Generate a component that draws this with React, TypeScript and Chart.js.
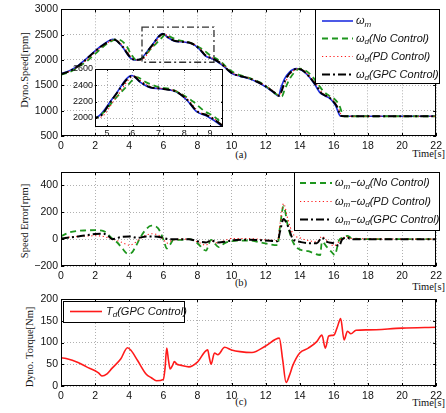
import { useEffect, useRef } from "react";
import { Chart, registerables } from "chart.js";

Chart.register(...registerables);

const SANS = '"Liberation Sans", Arial, Helvetica, sans-serif';
const SERIF = '"Liberation Serif", "Times New Roman", serif';

type P = [number, number];

// ---- axis ticks ----
const TIME_TICKS = [0, 2, 4, 6, 8, 10, 12, 14, 16, 18, 20, 22];
const SPEED_TICKS = [500, 1000, 1500, 2000, 2500, 3000];
const ERR_TICKS = [-200, 0, 200, 400];
const TORQUE_TICKS = [0, 50, 100, 150, 200];
const INSET_T_TICKS = [5, 6, 7, 8, 9];
const INSET_V_TICKS = [2000, 2200, 2400, 2600];

// ---- (a) dyno speed [rpm] ----
const SPEED_M: P[] = [
  [0, 1730], [0.5, 1790], [1, 1890], [1.4, 2000], [2, 2180], [2.5, 2310], [3.05, 2410],
  [3.6, 2260], [3.9, 2110], [4.1, 2030], [4.3, 2000], [4.6, 2010], [5.25, 2254], [5.96, 2521],
  [6.28, 2440], [6.67, 2372], [7.06, 2360], [7.7, 2319], [8.1, 2218], [8.48, 2077], [8.87, 2024],
  [9.39, 1915], [9.7, 1830], [10, 1735], [10.5, 1680], [11, 1635], [11.5, 1565], [12, 1470],
  [12.5, 1350], [12.75, 1290], [12.9, 1450], [13.1, 1620], [13.4, 1760], [13.8, 1830], [14.1, 1800],
  [14.5, 1690], [14.9, 1505], [15.2, 1350], [15.5, 1290], [15.8, 1230], [16.1, 1100], [16.4, 890],
  [17, 890], [22, 890],
];
const SPEED_NO: P[] = [
  [0, 1710], [0.5, 1760], [1, 1860], [1.6, 2000], [2.2, 2180], [2.7, 2320], [3.3, 2410],
  [3.8, 2300], [4.1, 2120], [4.45, 1990], [4.8, 2050], [5.3, 2230], [5.8, 2400], [6.15, 2500],
  [6.5, 2440], [7, 2380], [7.5, 2350], [7.9, 2290], [8.35, 2198], [8.8, 2080], [9.1, 2030],
  [9.45, 1940], [9.8, 1830], [10.2, 1740], [10.7, 1680], [11.2, 1625], [11.7, 1555], [12.2, 1440],
  [12.6, 1330], [12.95, 1280], [13.1, 1400], [13.4, 1620], [13.7, 1760], [14, 1830], [14.3, 1800],
  [14.7, 1690], [15.1, 1510], [15.4, 1380], [15.7, 1300], [16, 1240], [16.3, 1120], [16.6, 890],
  [17, 890], [22, 890],
];
const SPEED_PD: P[] = [
  [0, 1725], [0.5, 1780], [1, 1875], [1.5, 1995], [2.1, 2185], [2.6, 2305], [3.15, 2405],
  [3.7, 2250], [4.2, 2030], [4.45, 2000], [4.75, 2010], [5.35, 2250], [6.05, 2510], [6.35, 2445],
  [6.75, 2375], [7.15, 2360], [7.75, 2320], [8.15, 2222], [8.55, 2080], [8.95, 2030], [9.45, 1920],
  [9.75, 1828], [10.1, 1735], [10.6, 1680], [11.1, 1635], [11.6, 1565], [12.1, 1470], [12.55, 1360],
  [12.8, 1300], [12.95, 1380], [13.2, 1590], [13.5, 1745], [13.9, 1825], [14.2, 1800], [14.55, 1690],
  [15, 1510], [15.3, 1360], [15.6, 1290], [15.9, 1228], [16.2, 1100], [16.5, 895], [17, 890], [22, 890],
];
const SPEED_GPC: P[] = [
  [0, 1720], [0.5, 1780], [1, 1880], [1.4, 1990], [2, 2170], [2.5, 2300], [3.1, 2405],
  [3.6, 2265], [4.1, 2040], [4.35, 2005], [4.65, 2010], [5.25, 2250], [6, 2515], [6.3, 2440],
  [6.7, 2375], [7.1, 2360], [7.7, 2320], [8.1, 2225], [8.5, 2080], [8.9, 2030], [9.4, 1925],
  [9.7, 1830], [10.05, 1735], [10.5, 1685], [11, 1640], [11.5, 1570], [12, 1480], [12.5, 1360],
  [12.8, 1295], [12.95, 1400], [13.15, 1600], [13.45, 1750], [13.85, 1825], [14.15, 1800],
  [14.5, 1690], [14.95, 1505], [15.25, 1350], [15.55, 1290], [15.85, 1225], [16.15, 1100],
  [16.45, 895], [17, 890], [22, 890],
];
// region enlarged in the inset
const ZOOM_T = [4.75, 8.97];
const ZOOM_V = [1955, 2650];
const INSET_T = [4.53, 9.5];
const INSET_V = [1890, 2600];

// ---- (b) speed error [rpm] ----
const ERR_NO: P[] = [
  [0, 22], [0.5, 50], [1, 62], [1.5, 65], [2, 67], [2.5, 60], [2.8, 30], [3, 5], [3.3, -25],
  [3.6, -70], [3.9, -108], [4.1, -105], [4.4, -50], [4.6, 0], [4.9, 60], [5.3, 100], [5.7, 80],
  [5.9, 30], [6.05, -20], [6.2, -70], [6.4, -40], [6.6, -5], [7, -5], [7.5, 0], [8, -30],
  [8.5, -85], [8.8, -5], [9, -30], [9.25, -60], [9.6, -30], [10, -15], [11, -10], [12, -32],
  [12.7, -45], [12.85, 100], [13.05, 245], [13.3, 100], [13.6, -20], [13.9, -70], [14.5, -90],
  [15.2, -118], [15.3, -20], [15.6, -60], [15.9, -100], [16.05, -118], [16.3, -10], [16.5, 10],
  [16.8, 25], [17, 10], [18, 0], [22, 0],
];
const ERR_PD: P[] = [
  [0, 10], [0.5, 15], [1, 20], [2, 25], [2.5, 20], [3, 0], [3.5, -20], [4, -45], [4.3, -30],
  [4.6, 0], [5, 30], [5.3, 40], [5.7, 30], [6, 0], [6.2, -30], [6.5, -10], [7, 0], [7.5, 0],
  [8, -20], [8.5, -45], [8.8, -10], [9.2, -30], [9.6, -10], [10, 5], [11, 5], [12, -5],
  [12.7, -10], [12.85, 120], [13.05, 265], [13.3, 150], [13.6, 40], [14, 10], [14.5, -10],
  [15, -20], [15.3, 20], [15.6, -10], [16, -50], [16.3, -20], [16.5, 10], [16.8, 15], [17, 5],
  [22, 0],
];
const ERR_GPC: P[] = [
  [0, 5], [0.5, 12], [1, 20], [2, 38], [2.5, 40], [2.8, 20], [3, 0], [3.5, 15], [4, 20],
  [4.5, 10], [5, 20], [5.5, 20], [6, 10], [6.3, 0], [7, 0], [7.5, 0], [8, -15], [8.5, -25],
  [8.8, -10], [9.2, -25], [9.6, -20], [10, -10], [11, -5], [12, -10], [12.7, -15], [12.85, 60],
  [13.05, 150], [13.3, 100], [13.6, 0], [14, -20], [14.5, -30], [15, -30], [15.3, 10],
  [15.6, -20], [16, -30], [16.3, -50], [16.5, 0], [16.8, 10], [17, 0], [22, 0],
];

// ---- (c) dyno torque [Nm] ----
const TORQUE_GPC: P[] = [
  [0, 65], [0.3, 63], [1, 54], [1.5, 44], [2, 35], [2.2, 30], [2.4, 23], [2.7, 28], [3, 41],
  [3.5, 62], [3.9, 88], [4.1, 82], [4.5, 58], [5, 27], [5.3, 19], [5.6, 12], [6, 15], [6.1, 40],
  [6.2, 87], [6.3, 60], [6.4, 39], [6.55, 48], [6.65, 56], [6.8, 50], [7, 48], [7.5, 44],
  [8, 55], [8.6, 83], [8.7, 65], [8.8, 50], [9, 76], [9.2, 72], [9.6, 89], [10, 83], [10.5, 79],
  [11.2, 77], [12, 92], [12.8, 110], [13, 60], [13.2, 8], [13.4, 25], [13.6, 48], [14, 76],
  [14.5, 87], [15, 102], [15.3, 117], [15.5, 87], [15.7, 115], [16, 117], [16.2, 135],
  [16.4, 155], [16.6, 106], [16.8, 126], [17, 120], [17.3, 128], [18, 129], [20, 133], [22, 135],
];

const BLUE = "#1f2fe0";
const GREEN = "#1e961e";
const RED = "#ff1a1a";
const BLACK = "#000000";

const SOLID: number[] = [];
const DASHED = [6, 4];
const DOTTED = [1.2, 2.6];
const DASHDOT = [8, 3, 2, 3];

function series(points: P[], color: string, width: number, dash: number[], order: number) {
  return {
    data: points.map(([x, y]) => ({ x, y })),
    borderColor: color,
    backgroundColor: color,
    borderWidth: width,
    borderDash: dash,
    pointRadius: 0,
    fill: false,
    order,
  };
}

const fmt = (v: number) => (v < 0 ? "\u2212" + Math.abs(v) : String(v));

type AxisCfg = {
  x: number[]; xTicks: number[];
  y: number[]; yTicks: number[];
  padTop: number; padRight: number;
  yWidth: number; xHeight: number;
  font: number; xPad: number; yPad: number;
};

function options(o: AxisCfg) {
  const tickFont = { family: SANS, size: o.font };
  const grid = { color: "#9c9c9c", lineWidth: 0.8, drawTicks: false };
  const border = { display: false, dash: [1, 2] };
  return {
    responsive: false,
    animation: false,
    events: [],
    layout: { padding: { top: o.padTop, right: o.padRight, left: 0, bottom: 0 } },
    plugins: { legend: { display: false }, tooltip: { enabled: false } },
    elements: { line: { cubicInterpolationMode: "monotone" } },
    scales: {
      x: {
        type: "linear", min: o.x[0], max: o.x[1], grid, border,
        ticks: { font: tickFont, color: "#111", padding: o.xPad, maxRotation: 0, autoSkip: false, callback: fmt },
        afterBuildTicks: (s: any) => { s.ticks = o.xTicks.map((value) => ({ value })); },
        afterFit: (s: any) => { s.height = o.xHeight; },
      },
      y: {
        type: "linear", min: o.y[0], max: o.y[1], grid, border,
        ticks: { font: tickFont, color: "#111", padding: o.yPad, autoSkip: false, callback: fmt },
        afterBuildTicks: (s: any) => { s.ticks = o.yTicks.map((value) => ({ value })); },
        afterFit: (s: any) => { s.width = o.yWidth; },
      },
    },
  };
}

// Black box around the plot area with short inward tick marks on all sides.
function framePlugin(len: number) {
  return {
    id: "frame",
    afterDatasetsDraw(chart: any) {
      const { ctx, chartArea: a, scales } = chart;
      ctx.save();
      ctx.setLineDash([]);
      ctx.strokeStyle = "#000";
      ctx.lineWidth = 1;
      ctx.beginPath();
      for (const t of scales.x.ticks) {
        const px = Math.round(scales.x.getPixelForValue(t.value)) + 0.5;
        ctx.moveTo(px, a.bottom); ctx.lineTo(px, a.bottom - len);
        ctx.moveTo(px, a.top); ctx.lineTo(px, a.top + len);
      }
      for (const t of scales.y.ticks) {
        const py = Math.round(scales.y.getPixelForValue(t.value)) + 0.5;
        ctx.moveTo(a.left, py); ctx.lineTo(a.left + len, py);
        ctx.moveTo(a.right, py); ctx.lineTo(a.right - len, py);
      }
      ctx.stroke();
      ctx.strokeRect(Math.round(a.left) + 0.5, Math.round(a.top) + 0.5, Math.round(a.width) - 1, Math.round(a.height) - 1);
      ctx.restore();
    },
  };
}

type Part = { s: string; sub?: boolean };
type Row = { color: string; dash: number[]; width: number; parts: Part[] };
type LegendCfg = { box: number[]; rowsY: number[]; lineX: number[]; textX: number; rows: Row[] };

// Legend box with subscripted labels (ω_m, ω_d, T_d).
function legendPlugin(cfg: LegendCfg) {
  return {
    id: "subLegend",
    afterDraw(chart: any) {
      const { ctx } = chart;
      const [bx, by, bw, bh] = cfg.box;
      ctx.save();
      ctx.fillStyle = "#fff";
      ctx.fillRect(bx, by, bw, bh);
      ctx.setLineDash([]);
      ctx.strokeStyle = "#000";
      ctx.lineWidth = 1;
      ctx.strokeRect(bx + 0.5, by + 0.5, bw - 1, bh - 1);
      cfg.rows.forEach((r, i) => {
        const y = cfg.rowsY[i];
        ctx.beginPath();
        ctx.setLineDash(r.dash);
        ctx.strokeStyle = r.color;
        ctx.lineWidth = r.width;
        ctx.moveTo(cfg.lineX[0], y);
        ctx.lineTo(cfg.lineX[1], y);
        ctx.stroke();
        ctx.fillStyle = "#111";
        ctx.textBaseline = "middle";
        ctx.textAlign = "left";
        let x = cfg.textX;
        for (const p of r.parts) {
          ctx.font = p.sub ? `italic 8px ${SANS}` : `italic 11px ${SANS}`;
          ctx.fillText(p.s, x, p.sub ? y + 3.5 : y);
          x += ctx.measureText(p.s).width;
        }
      });
      ctx.restore();
    },
  };
}

// Dash-dot rectangle marking the enlarged window.
const zoomBoxPlugin = {
  id: "zoomBox",
  afterDatasetsDraw(chart: any) {
    const { ctx, scales: { x, y } } = chart;
    const x0 = x.getPixelForValue(ZOOM_T[0]);
    const x1 = x.getPixelForValue(ZOOM_T[1]);
    const y0 = y.getPixelForValue(ZOOM_V[1]);
    const y1 = y.getPixelForValue(ZOOM_V[0]);
    ctx.save();
    ctx.strokeStyle = "#333";
    ctx.lineWidth = 1.3;
    ctx.setLineDash([7, 3, 2, 3]);
    ctx.strokeRect(x0, y0, x1 - x0, y1 - y0);
    ctx.restore();
  },
};

const whiteAreaPlugin = {
  id: "whiteArea",
  beforeDraw(chart: any) {
    const { ctx, chartArea: a } = chart;
    ctx.save();
    ctx.fillStyle = "#fff";
    ctx.fillRect(a.left, a.top, a.width, a.height);
    ctx.restore();
  },
};

const om: Part[] = [{ s: "\u03C9" }, { s: "m", sub: true }];
const od: Part[] = [{ s: "\u03C9" }, { s: "d", sub: true }];
const diff: Part[] = [...om, { s: "\u2212" }, ...od];

function speedSets() {
  return [
    series(SPEED_M, BLUE, 1.6, SOLID, 4),
    series(SPEED_NO, GREEN, 1.8, DASHED, 3),
    series(SPEED_PD, RED, 1.1, DOTTED, 2),
    series(SPEED_GPC, BLACK, 2, DASHDOT, 1),
  ];
}

function speedConfig(): any {
  return {
    type: "line",
    data: { datasets: speedSets() },
    options: options({
      x: [0, 22], xTicks: TIME_TICKS, y: [500, 3000], yTicks: SPEED_TICKS,
      padTop: 9, padRight: 7, yWidth: 61, xHeight: 16, font: 10.5, xPad: 4, yPad: 3,
    }),
    plugins: [
      zoomBoxPlugin,
      framePlugin(3),
      legendPlugin({
        box: [315, 9, 125, 75], rowsY: [21, 38.5, 56.5, 74.5], lineX: [322, 353], textX: 356,
        rows: [
          { color: BLUE, dash: SOLID, width: 1.6, parts: om },
          { color: GREEN, dash: DASHED, width: 1.8, parts: [...od, { s: "(No Control)" }] },
          { color: RED, dash: DOTTED, width: 1.1, parts: [...od, { s: "(PD Control)" }] },
          { color: BLACK, dash: DASHDOT, width: 2, parts: [...od, { s: "(GPC Control)" }] },
        ],
      }),
    ],
  };
}

function insetConfig(): any {
  return {
    type: "line",
    data: { datasets: speedSets() },
    options: options({
      x: INSET_T, xTicks: INSET_T_TICKS, y: INSET_V, yTicks: INSET_V_TICKS,
      padTop: 9, padRight: 7, yWidth: 35, xHeight: 18, font: 9, xPad: 1, yPad: 2,
    }),
    plugins: [whiteAreaPlugin, framePlugin(2)],
  };
}

function errorConfig(): any {
  return {
    type: "line",
    data: {
      datasets: [
        series(ERR_NO, GREEN, 1.8, DASHED, 3),
        series(ERR_PD, RED, 1.1, DOTTED, 2),
        series(ERR_GPC, BLACK, 2, DASHDOT, 1),
      ],
    },
    options: options({
      x: [0, 22], xTicks: TIME_TICKS, y: [-200, 500], yTicks: ERR_TICKS,
      padTop: 12, padRight: 7, yWidth: 61, xHeight: 16, font: 10.5, xPad: 4, yPad: 3,
    }),
    plugins: [
      framePlugin(3),
      legendPlugin({
        box: [294, 12, 146, 59], rowsY: [23, 41.5, 59.5], lineX: [300, 332], textX: 335,
        rows: [
          { color: GREEN, dash: DASHED, width: 1.8, parts: [...diff, { s: "(No Control)" }] },
          { color: RED, dash: DOTTED, width: 1.1, parts: [...diff, { s: "(PD Control)" }] },
          { color: BLACK, dash: DASHDOT, width: 2, parts: [...diff, { s: "(GPC Control)" }] },
        ],
      }),
    ],
  };
}

function torqueConfig(): any {
  return {
    type: "line",
    data: { datasets: [series(TORQUE_GPC, RED, 1.6, SOLID, 1)] },
    options: options({
      x: [0, 22], xTicks: TIME_TICKS, y: [0, 200], yTicks: TORQUE_TICKS,
      padTop: 12, padRight: 7, yWidth: 61, xHeight: 27, font: 10.5, xPad: 4, yPad: 3,
    }),
    plugins: [
      framePlugin(3),
      legendPlugin({
        box: [63, 14, 122, 22], rowsY: [24.5], lineX: [70, 102], textX: 106,
        rows: [{ color: RED, dash: SOLID, width: 1.6, parts: [{ s: "T" }, { s: "d", sub: true }, { s: "(GPC Control)" }] }],
      }),
    ],
  };
}

function ChartBox(props: { left: number; top: number; width: number; height: number; z?: number; make: () => any }) {
  const ref = useRef<HTMLCanvasElement>(null);
  useEffect(() => {
    const chart = new Chart(ref.current as HTMLCanvasElement, props.make());
    return () => chart.destroy();
  }, []);
  return (
    <canvas
      ref={ref}
      width={props.width}
      height={props.height}
      style={{ position: "absolute", left: props.left, top: props.top, width: props.width, height: props.height, zIndex: props.z ?? 1 }}
    />
  );
}

const textStyle = { position: "absolute" as const, font: `10.5px ${SERIF}`, color: "#111", whiteSpace: "nowrap" as const, lineHeight: "12px" };

function YTitle({ cx, cy, text }: { cx: number; cy: number; text: string }) {
  return (
    <div style={{ ...textStyle, left: cx, top: cy, transform: "translate(-50%, -50%) rotate(-90deg)" }}>{text}</div>
  );
}

function Caption({ cx, cy, text }: { cx: number; cy: number; text: string }) {
  return <div style={{ ...textStyle, left: cx, top: cy, transform: "translate(-50%, -50%)" }}>{text}</div>;
}

function TimeLabel({ cy }: { cy: number }) {
  return <div style={{ ...textStyle, right: 1, top: cy, transform: "translateY(-50%)" }}>Time[s]</div>;
}

export default function App() {
  return (
    <div style={{ position: "absolute", left: 0, top: 0, width: 446, height: 413, background: "#fff", overflow: "hidden" }}>
      <ChartBox left={0} top={0} width={446} height={152} make={speedConfig} />
      <ChartBox left={60} top={60} width={170} height={85} z={2} make={insetConfig} />
      <ChartBox left={0} top={160} width={446} height={122} make={errorConfig} />
      <ChartBox left={0} top={287} width={446} height={126} make={torqueConfig} />
      <YTitle cx={25} cy={70} text="Dyno.Speed[rpm]" />
      <YTitle cx={25} cy={221} text="Speed Error[rpm]" />
      <YTitle cx={30} cy={347} text="Dyno. Torque[Nm]" />
      <Caption cx={241} cy={155} text="(a)" />
      <Caption cx={241} cy={283} text="(b)" />
      <Caption cx={241} cy={402} text="(c)" />
      <TimeLabel cy={154} />
      <TimeLabel cy={287} />
      <TimeLabel cy={403} />
    </div>
  );
}
